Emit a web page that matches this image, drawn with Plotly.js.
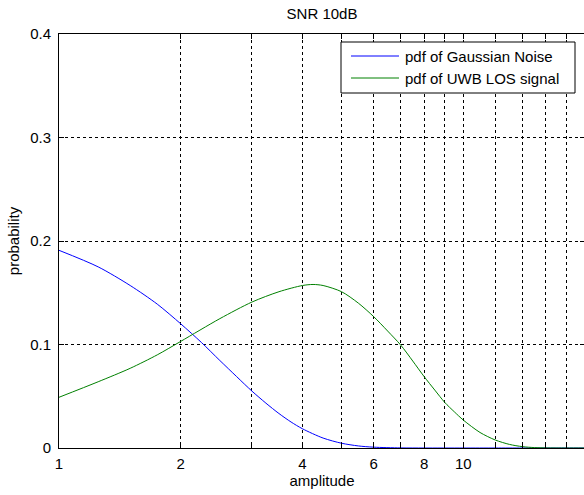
<!DOCTYPE html>
<html>
<head>
<meta charset="utf-8">
<script src="https://cdn.plot.ly/plotly-3.0.1.min.js"></script>
<style>
html, body { margin: 0; padding: 0; overflow: hidden; background: #fff; }
#chart { width: 590px; height: 495px; }
</style>
</head>
<body>
<div id="chart"></div>
<script>
// Data
const noiseX = [1, 1.25, 1.5, 1.75, 2, 2.25, 2.5, 2.75, 3, 3.25, 3.5, 3.75, 4, 4.5, 5, 5.5, 6, 7, 8, 10, 12, 14, 16, 18, 20];
const noiseY = [0.191, 0.175, 0.157, 0.139, 0.120, 0.102, 0.0845, 0.069, 0.055, 0.0433, 0.0333, 0.0251, 0.0186, 0.0096, 0.0046, 0.002, 0.0008, 0.0001, 0, 0, 0, 0, 0, 0, 0];

const losX = [1, 1.25, 1.5, 1.75, 2, 2.5, 3, 3.5, 4, 4.25, 4.5, 5, 5.5, 6, 6.5, 7, 7.5, 8, 8.5, 9, 9.5, 10, 11, 12, 13, 14, 15, 16, 18, 20];
const losY = [0.049, 0.064, 0.077, 0.090, 0.103, 0.125, 0.141, 0.151, 0.157, 0.158, 0.157, 0.151, 0.140, 0.127, 0.113, 0.0995, 0.084, 0.069, 0.056, 0.044, 0.035, 0.027, 0.015, 0.0077, 0.0035, 0.0013, 0.0004, 0.0001, 0, 0];

const xTickVals = [1, 2, 3, 4, 5, 6, 7, 8, 9, 10, 12, 14, 16, 18, 20];
const xTickText = ['1', '2', '', '4', '', '6', '', '8', '', '10', '', '', '', '', ''];
const yTickVals = [0, 0.1, 0.2, 0.3, 0.4];
const yTickText = ['0', '0.1', '0.2', '0.3', '0.4'];

const seriesNames = ['pdf of Gaussian Noise', 'pdf of UWB LOS signal'];
const seriesColors = ['#0000ff', '#008000'];

const font = { family: 'Liberation Sans, Arial, sans-serif', size: 15, color: '#000' };

// plot area in pixels (for legend box placement)
const PL = 59, PR = 585, PT = 34, PB = 448;
const px = v => (v - PL) / (PR - PL);
const py = v => (PB - v) / (PB - PT);

const traces = [
  { x: noiseX, y: noiseY, name: seriesNames[0], type: 'scatter', mode: 'lines',
    line: { color: seriesColors[0], width: 1, shape: 'spline', smoothing: 0.8 } },
  { x: losX, y: losY, name: seriesNames[1], type: 'scatter', mode: 'lines',
    line: { color: seriesColors[1], width: 1, shape: 'spline', smoothing: 0.8 } }
];

// legend drawn as a box with sample lines and labels
const legendRows = [56, 78];
const shapes = [
  { type: 'rect', xref: 'paper', yref: 'paper', x0: px(341), x1: px(575), y0: py(42), y1: py(93),
    line: { color: '#000', width: 1 }, fillcolor: '#fff', layer: 'above' }
];
const annotations = [];
seriesNames.forEach((name, i) => {
  shapes.push({ type: 'line', xref: 'paper', yref: 'paper', x0: px(351), x1: px(399),
    y0: py(legendRows[i]), y1: py(legendRows[i]), line: { color: seriesColors[i], width: 1 }, layer: 'above' });
  annotations.push({ xref: 'paper', yref: 'paper', x: px(403), y: py(legendRows[i]),
    xanchor: 'left', yanchor: 'middle', text: name, showarrow: false, font: font });
});

const layout = {
  width: 590, height: 495,
  margin: { l: PL, r: 590 - PR, t: PT, b: 495 - PB },
  paper_bgcolor: '#fff', plot_bgcolor: '#fff',
  font: font,
  showlegend: false,
  title: { text: 'SNR 10dB', font: font, xref: 'paper', x: 0.5, xanchor: 'center',
           yref: 'container', y: 1 - 14 / 495, yanchor: 'middle' },
  xaxis: {
    type: 'log', range: [0, Math.log10(20)],
    tickmode: 'array', tickvals: xTickVals, ticktext: xTickText,
    ticks: 'inside', ticklen: 5, tickcolor: '#000', tickwidth: 1,
    showline: true, linecolor: '#000', linewidth: 1, mirror: 'ticks',
    showgrid: true, gridcolor: '#000', gridwidth: 1, griddash: '3px,3px',
    zeroline: false, tickfont: font, ticklabelstandoff: 2,
    title: { text: 'amplitude', font: font, standoff: 2 }
  },
  yaxis: {
    range: [0, 0.4],
    tickmode: 'array', tickvals: yTickVals, ticktext: yTickText,
    ticks: 'inside', ticklen: 5, tickcolor: '#000', tickwidth: 1,
    showline: true, linecolor: '#000', linewidth: 1, mirror: 'ticks',
    showgrid: true, gridcolor: '#000', gridwidth: 1, griddash: '3px,3px',
    zeroline: false, tickfont: font, ticklabelstandoff: 4,
    title: { text: 'probability', font: font, standoff: 6 }
  },
  shapes: shapes,
  annotations: annotations
};

Plotly.newPlot('chart', traces, layout, { displayModeBar: false, staticPlot: true });
</script>
</body>
</html>
